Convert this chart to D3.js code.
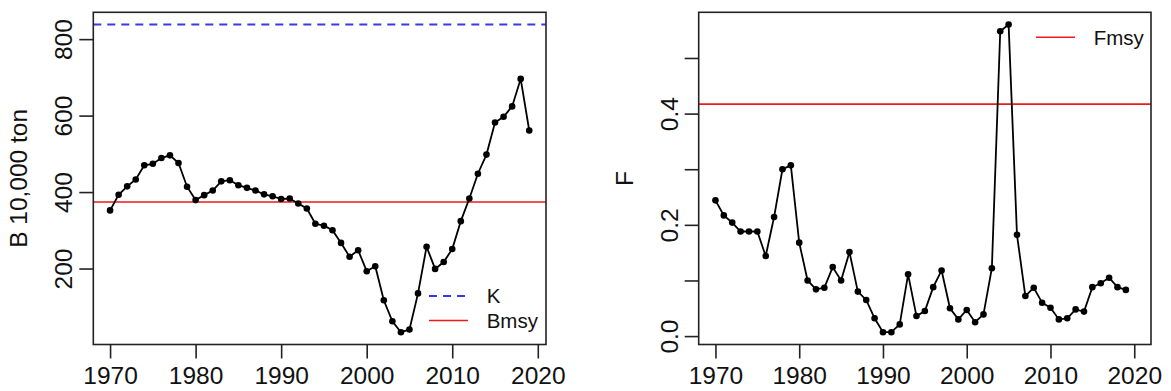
<!DOCTYPE html>
<html>
<head>
<meta charset="utf-8">
<script src="https://cdn.jsdelivr.net/npm/d3@7"></script>
<style>
  html, body { margin: 0; padding: 0; background: #fff; }
  svg { display: block; }
  text { font-family: "Liberation Sans", Arial, Helvetica, sans-serif; fill: #111; }
</style>
</head>
<body>
<svg id="chart" width="1171" height="391"></svg>
<script>
// Stock assessment output: biomass and fishing mortality by year
const years = [1970, 1971, 1972, 1973, 1974, 1975, 1976, 1977, 1978, 1979,
               1980, 1981, 1982, 1983, 1984, 1985, 1986, 1987, 1988, 1989,
               1990, 1991, 1992, 1993, 1994, 1995, 1996, 1997, 1998, 1999,
               2000, 2001, 2002, 2003, 2004, 2005, 2006, 2007, 2008, 2009,
               2010, 2011, 2012, 2013, 2014, 2015, 2016, 2017, 2018, 2019];

// Biomass, 10,000 ton
const biomass = [352, 393, 415, 433, 470, 474, 489, 496, 476, 414,
                 379, 392, 404, 428, 431, 418, 411, 404, 394, 389,
                 382, 383, 370, 357, 317, 312, 300, 267, 231, 248,
                 193, 206, 117, 62, 33.5, 40.5, 135, 257, 199, 217,
                 251, 324, 383, 448, 498, 582, 597, 624, 696, 561];

// Fishing mortality
const fishingF = [0.244, 0.217, 0.204, 0.188, 0.188, 0.188, 0.144, 0.214, 0.300, 0.307,
                  0.168, 0.100, 0.084, 0.087, 0.124, 0.100, 0.151, 0.080, 0.065, 0.032,
                  0.007, 0.007, 0.021, 0.111, 0.036, 0.045, 0.088, 0.118, 0.050, 0.030,
                  0.047, 0.025, 0.039, 0.122, 0.548, 0.560, 0.182, 0.072, 0.087, 0.060,
                  0.051, 0.030, 0.032, 0.048, 0.044, 0.088, 0.095, 0.105, 0.088, 0.083];

// F series covers 1970-2020 (no estimate yet for the last year)
const fYearSpan = [1970, 2020];

// Reference points
const K = 838;
const Bmsy = 374;
const Fmsy = 0.417;

// Axis ticks
const yearTicks = [1970, 1980, 1990, 2000, 2010, 2020];
const bTicks = [200, 400, 600, 800];
const bTickLabels = ["200", "400", "600", "800"];
const fTicks = [0, 0.1, 0.2, 0.3, 0.4, 0.5];
const fTickLabels = ["0.0", "", "0.2", "", "0.4", ""];

const svg = d3.select("#chart");

const AXIS_FONT = 24.5;
const LEGEND_FONT = 20.5;
const TICK_LEN = 14;

// pad an extent by 4% on each side, like R's default axis style
function padded(ext) {
  const d = (ext[1] - ext[0]) * 0.04;
  return [ext[0] - d, ext[1] + d];
}

function panel(opts) {
  const { box, xExtent, yExtent, values, yTicks, yLabels, yTitle, refs, legend } = opts;
  const x = d3.scaleLinear().domain(padded(xExtent)).range([box.x0, box.x1]);
  const y = d3.scaleLinear().domain(padded(yExtent)).range([box.y1, box.y0]);
  const g = svg.append("g");

  // reference lines across the plot region
  refs.forEach(r => {
    g.append("line")
      .attr("x1", box.x0).attr("x2", box.x1)
      .attr("y1", y(r.value)).attr("y2", y(r.value))
      .attr("stroke", r.color).attr("stroke-width", r.width)
      .attr("stroke-dasharray", r.dash || null);
  });

  // series line with points
  const pts = years.map((yr, i) => [yr, values[i]]);
  g.append("path")
    .datum(pts)
    .attr("fill", "none").attr("stroke", "#000").attr("stroke-width", 1.8)
    .attr("d", d3.line().x(d => x(d[0])).y(d => y(d[1])));
  g.selectAll("circle.pt").data(pts).join("circle")
    .attr("class", "pt")
    .attr("cx", d => x(d[0])).attr("cy", d => y(d[1]))
    .attr("r", 3.3).attr("fill", "#000");

  // frame
  g.append("rect")
    .attr("x", box.x0).attr("y", box.y0)
    .attr("width", box.x1 - box.x0).attr("height", box.y1 - box.y0)
    .attr("fill", "none").attr("stroke", "#222").attr("stroke-width", 1.6);

  // bottom axis
  const xa = g.append("g")
    .attr("transform", `translate(0,${box.y1})`)
    .call(d3.axisBottom(x).tickValues(yearTicks).tickFormat(d3.format("d"))
      .tickSize(TICK_LEN).tickPadding(8.5));
  xa.select(".domain").remove();
  xa.selectAll(".tick line").attr("stroke", "#222").attr("stroke-width", 1.6);
  xa.selectAll(".tick text").attr("font-size", AXIS_FONT).attr("fill", "#111")
    .attr("font-family", null);

  // left axis with labels running up the axis
  const ya = g.append("g")
    .attr("transform", `translate(${box.x0},0)`)
    .call(d3.axisLeft(y).tickValues(yTicks).tickFormat((d, i) => yLabels[i])
      .tickSize(TICK_LEN));
  ya.select(".domain").remove();
  ya.selectAll(".tick line").attr("stroke", "#222").attr("stroke-width", 1.6);
  ya.selectAll(".tick text")
    .attr("x", 0).attr("y", 0).attr("dy", null)
    .attr("text-anchor", "middle")
    .attr("transform", "translate(-21,0) rotate(-90)")
    .attr("font-size", AXIS_FONT).attr("fill", "#111")
    .attr("font-family", null);

  // axis title
  g.append("text")
    .attr("transform", `translate(${box.x0 - 66},${(box.y0 + box.y1) / 2}) rotate(-90)`)
    .attr("text-anchor", "middle")
    .attr("font-size", AXIS_FONT)
    .text(yTitle);

  // legend
  legend.items.forEach((it, i) => {
    const ly = legend.y + i * 24.5;
    g.append("line")
      .attr("x1", legend.x).attr("x2", legend.x + 39)
      .attr("y1", ly).attr("y2", ly)
      .attr("stroke", it.color).attr("stroke-width", it.width)
      .attr("stroke-dasharray", it.dash || null);
    g.append("text")
      .attr("x", legend.x + 57.7).attr("y", ly + LEGEND_FONT * 0.36)
      .attr("font-size", LEGEND_FONT)
      .text(it.label);
  });
}

const BLUE = "#3a3ade";
const RED = "#f01818";

// Biomass panel
const leftBox = { x0: 93.3, x1: 546, y0: 12.3, y1: 344.5 };
panel({
  box: leftBox,
  xExtent: d3.extent(years),
  yExtent: d3.extent(biomass.concat([K])),
  values: biomass,
  yTicks: bTicks,
  yLabels: bTickLabels,
  yTitle: "B 10,000 ton",
  refs: [
    { value: K, color: BLUE, width: 2, dash: "8,6" },
    { value: Bmsy, color: RED, width: 1.6 }
  ],
  legend: {
    x: leftBox.x1 - 117, y: leftBox.y1 - 48.5,
    items: [
      { label: "K", color: BLUE, width: 2, dash: "8,6" },
      { label: "Bmsy", color: RED, width: 1.6 }
    ]
  }
});

// Fishing mortality panel
const rightBox = { x0: 698.7, x1: 1151, y0: 12.3, y1: 344.5 };
panel({
  box: rightBox,
  xExtent: fYearSpan,
  yExtent: d3.extent(fishingF),
  values: fishingF,
  yTicks: fTicks,
  yLabels: fTickLabels,
  yTitle: "F",
  refs: [
    { value: Fmsy, color: RED, width: 1.6 }
  ],
  legend: {
    x: rightBox.x1 - 115, y: rightBox.y0 + 25,
    items: [
      { label: "Fmsy", color: RED, width: 1.6 }
    ]
  }
});
</script>
</body>
</html>
